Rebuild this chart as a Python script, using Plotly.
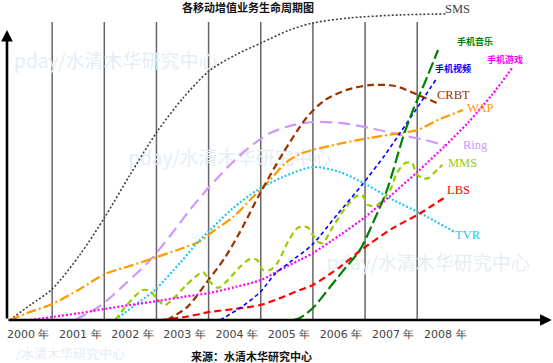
import plotly.graph_objects as go

# ---------------- data ----------------
year_labels = ["2000 年", "2001 年", "2002 年", "2003 年", "2004 年",
               "2005 年", "2006 年", "2007 年", "2008 年"]
year_label_pos = [2000.54 + i for i in range(len(year_labels))]
year_bounds = [2001, 2002, 2003, 2004, 2005, 2006, 2007, 2008]

sms_x = [2000.19, 2000.58, 2001.00, 2001.53, 2002.01, 2002.49, 2003.01, 2003.51,
         2004.01, 2004.51, 2005.00, 2005.56, 2006.00, 2006.71, 2007.67, 2008.57]
sms_y = [0, 5.0, 10.3, 21.7, 34.3, 48.3, 62.7, 74.0, 83.0, 88.3, 92.3, 96.7,
         99.0, 100.7, 101.7, 102.0]

music_x = [2005.62, 2005.75, 2006.00, 2006.33, 2006.62, 2006.90, 2007.15, 2007.42,
           2007.73, 2007.92, 2008.15, 2008.40]
music_y = [0, 0.7, 4.0, 11.0, 17.3, 23.3, 32.3, 43.3, 61.0, 70.0, 79.3, 90.0]

video_x = [2004.22, 2004.60, 2004.99, 2005.27, 2005.56, 2005.98, 2006.46, 2006.94,
           2007.38, 2007.67, 2007.96, 2008.38]
video_y = [0, 4.0, 9.3, 15.3, 19.3, 25.0, 35.0, 45.0, 55.0, 62.3, 69.7, 80.7]

game_x = [2000.58, 2001.00, 2001.53, 2002.01, 2002.49, 2003.01, 2003.51, 2004.01,
          2004.51, 2005.00, 2005.37, 2005.75, 2006.00, 2006.52, 2007.00, 2007.48,
          2008.00, 2008.53, 2008.97, 2009.43, 2009.82]
game_y = [0, 1.0, 2.3, 3.7, 5.0, 6.3, 7.7, 9.0, 11.0, 13.3, 16.7, 20.0, 22.3,
          28.3, 34.3, 41.3, 49.3, 58.0, 65.7, 75.0, 84.0]

crbt_x = [2003.20, 2003.59, 2003.97, 2004.31, 2004.60, 2004.99, 2005.43, 2005.89,
          2006.23, 2006.65, 2007.09, 2007.57, 2008.02, 2008.38]
crbt_y = [0, 4.3, 12.7, 20.7, 29.3, 42.3, 55.7, 67.7, 73.3, 76.7, 78.3, 78.0,
          75.0, 72.3]

wap_x = [2000.19, 2000.58, 2001.00, 2001.53, 2002.01, 2002.49, 2003.01, 2003.51,
         2003.84, 2004.12, 2004.47, 2004.85, 2005.18, 2005.47, 2005.75, 2006.00,
         2006.58, 2007.09, 2007.67, 2008.00, 2008.44, 2008.88]
wap_y = [0, 2.7, 5.3, 10.3, 15.3, 18.0, 21.0, 24.0, 26.3, 30.0, 34.3, 41.0, 46.7,
         52.3, 55.3, 56.7, 59.0, 60.7, 62.3, 63.3, 67.0, 70.0]

ring_x = [2001.44, 2001.92, 2002.40, 2002.88, 2003.26, 2003.64, 2004.01, 2004.41,
          2004.79, 2005.18, 2005.56, 2006.00, 2006.52, 2007.09, 2007.67, 2008.15,
          2008.57]
ring_y = [0, 4.7, 12.0, 20.0, 28.0, 36.7, 44.3, 51.7, 57.7, 62.3, 64.7, 66.0,
          65.7, 64.0, 61.7, 60.0, 58.0]

tvr_x = [2002.21, 2002.59, 2002.97, 2003.45, 2003.78, 2004.03, 2004.47, 2004.93,
         2005.43, 2006.00, 2006.52, 2007.04, 2007.54, 2008.05, 2008.72]
tvr_y = [0, 5.0, 10.0, 19.0, 25.7, 30.0, 37.3, 43.3, 47.7, 51.0, 49.3, 45.0,
         40.0, 35.7, 29.3]

lbs_x = [2003.07, 2003.55, 2004.03, 2004.51, 2004.99, 2005.37, 2005.75, 2006.00,
         2006.52, 2006.90, 2007.54, 2008.00, 2008.57]
lbs_y = [0, 1.0, 2.7, 3.7, 5.0, 7.3, 10.0, 11.7, 17.7, 23.0, 30.7, 35.0, 41.3]

mms_x = [2002.21, 2002.40, 2002.59, 2002.74, 2002.88, 2003.01, 2003.16, 2003.36,
         2003.55, 2003.74, 2003.89, 2004.03, 2004.18, 2004.37, 2004.60, 2004.79,
         2004.93, 2005.04, 2005.18, 2005.33, 2005.52, 2005.71, 2005.89, 2006.00,
         2006.10, 2006.19, 2006.37, 2006.62, 2006.81, 2006.94, 2007.06, 2007.23,
         2007.48, 2007.61, 2007.77, 2007.90, 2007.98, 2008.09, 2008.21, 2008.32,
         2008.48]
mms_y = [0, 4.3, 8.0, 10.0, 9.7, 7.0, 5.0, 7.7, 11.3, 14.3, 16.0, 12.7, 10.7,
         13.3, 17.7, 20.3, 20.0, 16.7, 16.7, 19.3, 26.0, 30.7, 31.0, 28.3, 26.0,
         25.7, 30.7, 37.3, 41.0, 41.7, 38.3, 38.3, 43.3, 49.0, 52.3, 52.3, 49.0,
         47.3, 47.3, 49.0, 51.7]

series_names = ["SMS", "手机音乐", "手机视频", "手机游戏", "CRBT", "WAP",
                "Ring", "MMS", "LBS", "TVR"]

# ---------------- styles ----------------
styles = {
    "SMS":   dict(color="#404040", width=1.6, dash="2px,2px"),
    "手机音乐": dict(color="#008000", width=2.2, dash="12px,4px"),
    "手机视频": dict(color="#0000ff", width=1.6, dash="4px,3px"),
    "手机游戏": dict(color="#ff00ff", width=2.2, dash="2px,2px"),
    "CRBT":  dict(color="#993300", width=2.2, dash="7px,4px"),
    "WAP":   dict(color="#ff9900", width=2.2, dash="10px,3px,2px,3px"),
    "Ring":  dict(color="#cc99ff", width=2.2, dash="12px,6px"),
    "MMS":   dict(color="#99cc00", width=2.2, dash="6px,4px"),
    "LBS":   dict(color="#ff0000", width=2.2, dash="7px,4px"),
    "TVR":   dict(color="#22c8f0", width=2.2, dash="2px,2px"),
}
label_pos = {
    "SMS": (2008.78, 103.7), "手机音乐": (2009.11, 92.7), "手机视频": (2008.69, 84.0),
    "手机游戏": (2009.68, 86.7), "CRBT": (2008.69, 75.0), "WAP": (2009.20, 70.7),
    "Ring": (2009.11, 58.3), "MMS": (2008.86, 52.3), "LBS": (2008.80, 43.3),
    "TVR": (2008.97, 28.3),
}
data = {
    "SMS": (sms_x, sms_y), "手机音乐": (music_x, music_y), "手机视频": (video_x, video_y),
    "手机游戏": (game_x, game_y), "CRBT": (crbt_x, crbt_y), "WAP": (wap_x, wap_y),
    "Ring": (ring_x, ring_y), "MMS": (mms_x, mms_y), "LBS": (lbs_x, lbs_y),
    "TVR": (tvr_x, tvr_y),
}

X_MIN, X_MAX = 2000.0, 2010.604
Y_MIN, Y_MAX = -14.333, 106.667
AXIS_X = 2000.134
GRID_TOP = 99.3

fig = go.Figure()

# faint watermarks (behind)
wm_text = "pday/水清木华研究中心"
fig.add_trace(go.Scatter(
    x=[2002.22, 2004.41, 2008.21, 2001.35], y=[85.7, 53.3, 18.3, -11.6],
    mode="text", text=[wm_text, wm_text, wm_text, "/水清木华研究中心"],
    textfont=dict(family="Noto Sans CJK SC", size=[19, 19, 19, 13], color="#e6edf5"),
    hoverinfo="skip", showlegend=False))

order = ["SMS", "Ring", "WAP", "TVR", "CRBT", "MMS", "手机游戏", "LBS", "手机视频", "手机音乐"]
for name in order:
    xs, ys = data[name]
    st = styles[name]
    fig.add_trace(go.Scatter(
        x=xs, y=ys, mode="lines", name=name,
        line=dict(color=st["color"], width=st["width"], dash=st["dash"],
                  shape="spline", smoothing=0.8),
        showlegend=False, hoverinfo="skip"))

# year boundary lines
for b in year_bounds:
    fig.add_shape(type="line", x0=b, x1=b, y0=0, y1=GRID_TOP, xref="x", yref="y",
                  line=dict(color="#666666", width=1.5), layer="below")

annotations = []
# axes arrows
annotations.append(dict(x=2010.58, y=0, ax=AXIS_X, ay=0, xref="x", yref="y",
                        axref="x", ayref="y", text="", showarrow=True,
                        arrowhead=2, arrowsize=0.9, arrowwidth=2.6,
                        arrowcolor="#000000"))
annotations.append(dict(x=AXIS_X, y=96.7, ax=AXIS_X, ay=0, xref="x", yref="y",
                        axref="x", ayref="y", text="", showarrow=True,
                        arrowhead=2, arrowsize=0.9, arrowwidth=2.6,
                        arrowcolor="#000000"))

# series labels
for name in series_names:
    lx, ly = label_pos[name]
    col = styles[name]["color"]
    if name.isascii():
        font = dict(family="Liberation Serif", size=12.5, color=col)
    else:
        font = dict(family="Noto Sans CJK SC", size=9, color=col, weight="bold")
    annotations.append(dict(x=lx, y=ly, xref="x", yref="y", text=name,
                            xanchor="center", yanchor="middle",
                            showarrow=False, font=font))

annotations.append(dict(x=0.448, y=0.981, xref="paper", yref="paper",
                        xanchor="center", yanchor="middle",
                        text="各移动增值业务生命周期图", showarrow=False,
                        font=dict(family="Noto Sans CJK SC", size=11, color="#111111",
                                  weight="bold")))
annotations.append(dict(x=0.454, y=0.019, xref="paper", yref="paper",
                        xanchor="center", yanchor="middle",
                        text="来源：水清木华研究中心", showarrow=False,
                        font=dict(family="Noto Sans CJK SC", size=11, color="#111111",
                                  weight="bold")))

fig.update_layout(
    width=553, height=363,
    margin=dict(l=0, r=0, t=0, b=0),
    paper_bgcolor="white", plot_bgcolor="white",
    showlegend=False,
    annotations=annotations,
    xaxis=dict(range=[X_MIN, X_MAX], domain=[0, 1], anchor="free",
               position=43 / 363, showgrid=False, zeroline=False, showline=False,
               tickmode="array", tickvals=year_label_pos, ticktext=year_labels,
               ticks="outside", ticklen=4, tickcolor="rgba(0,0,0,0)",
               tickfont=dict(family="DejaVu Sans", size=11, color="#444444"),
               fixedrange=True),
    yaxis=dict(range=[Y_MIN, Y_MAX], domain=[0, 1], visible=False, fixedrange=True),
)

fig.write_html("out.html",
               config={"displayModeBar": False, "staticPlot": True},
               post_script="document.body.style.margin='0px';document.body.style.overflow='hidden';")
